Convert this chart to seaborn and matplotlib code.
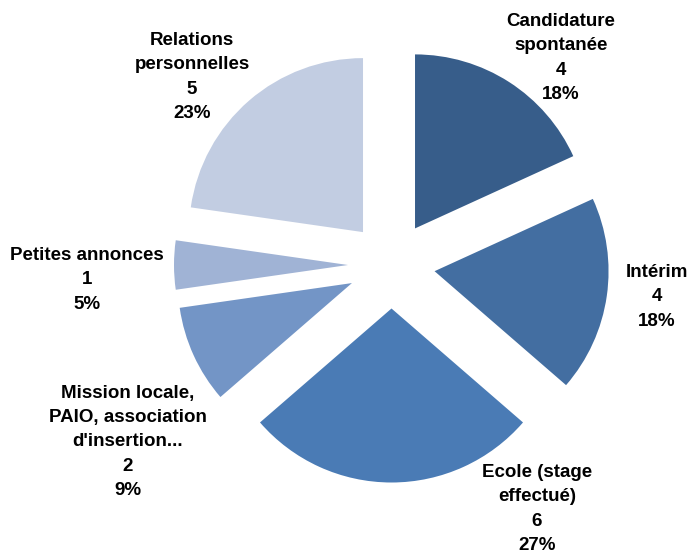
"""Pie chart: modes of access to employment."""

import matplotlib
matplotlib.use("Agg")
import matplotlib.pyplot as plt
import seaborn as sns

categories = [
    "Candidature\nspontanée",
    "Intérim",
    "Ecole (stage\neffectué)",
    "Mission locale,\nPAIO, association\nd'insertion...",
    "Petites annonces",
    "Relations\npersonnelles",
]
counts = [4, 4, 6, 2, 1, 5]
percents = [18, 18, 27, 9, 5, 23]
colors = ["#375d8a", "#436ea1", "#4a7bb5", "#7395c6", "#a0b3d5", "#c2cde2"]

sns.set_theme(style="white")
plt.rcParams["font.family"] = ["Liberation Sans", "DejaVu Sans"]

W, H = 693, 555
cx, cy, R = 391.5, 265.0, 174.0  # pixel centre and radius

fig = plt.figure(figsize=(W / 100, H / 100), dpi=100)
ax = fig.add_axes([0, 0, 1, 1])
ax.pie(
    counts, colors=colors, startangle=90, counterclock=False,
    explode=[0.25] * len(counts), radius=1.0,
    wedgeprops={"linewidth": 0},
)
ax.set_xlim(-cx / R, (W - cx) / R)
ax.set_ylim(-(H - cy) / R, cy / R)
ax.set_aspect("equal")
ax.axis("off")

# label centres in pixels (x, y from top)
label_px = [(561, 58), (657, 297), (537, 509), (128, 442), (87, 280), (192, 77)]
for cat, n, p, (px, py) in zip(categories, counts, percents, label_px):
    ax.text(
        (px - cx) / R, (cy - py) / R, f"{cat}\n{n}\n{p}%",
        ha="center", va="center", fontsize=13.5, fontweight="bold",
        linespacing=1.55, color="black",
    )

fig.savefig("out.png", dpi=100)
plt.close(fig)
